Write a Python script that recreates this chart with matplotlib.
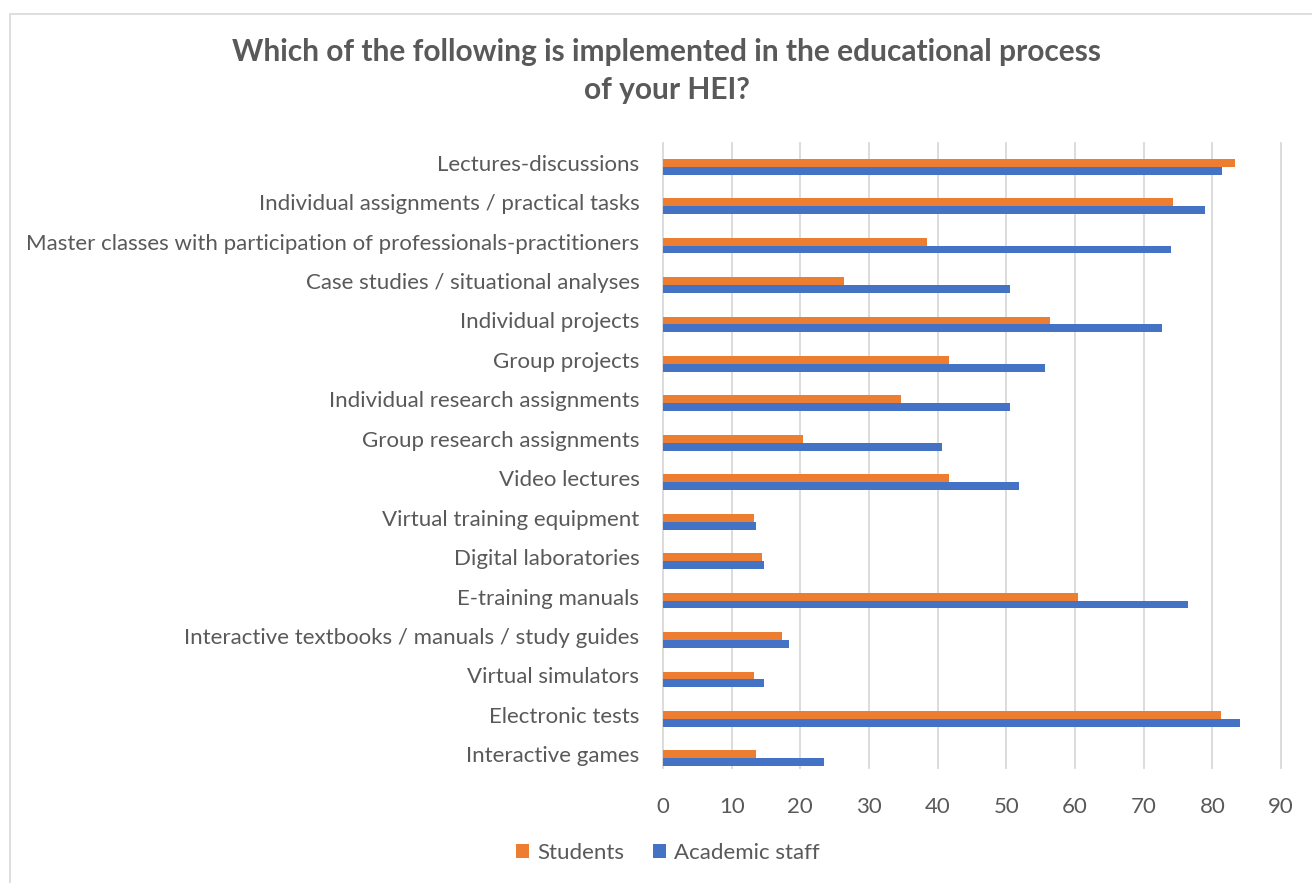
import numpy as np
import matplotlib.pyplot as plt
from matplotlib.patches import Rectangle
from matplotlib.transforms import ScaledTranslation

plt.rcParams['font.family'] = ['Lato', 'DejaVu Sans']

categories = [
    'Lectures-discussions',
    'Individual assignments / practical tasks',
    'Master classes with participation of professionals-practitioners',
    'Case studies / situational analyses',
    'Individual projects',
    'Group projects',
    'Individual research assignments',
    'Group research assignments',
    'Video lectures',
    'Virtual training equipment',
    'Digital laboratories',
    'E-training manuals',
    'Interactive textbooks / manuals / study guides',
    'Virtual simulators',
    'Electronic tests',
    'Interactive games',
]
students = [83.3, 74.2, 38.5, 26.4, 56.4, 41.6, 34.7, 20.4, 41.6,
            13.2, 14.4, 60.5, 17.3, 13.2, 81.3, 13.5]
staff = [81.4, 79.0, 74.0, 50.5, 72.7, 55.6, 50.5, 40.7, 51.8,
         13.5, 14.7, 76.5, 18.4, 14.7, 84.0, 23.4]
xticks = list(range(0, 100, 10))

text_col = '#595959'
orange = '#ED7D31'
blue = '#4472C4'

W, H = 1312, 883
fig = plt.figure(figsize=(W / 100, H / 100), dpi=100)
top, bottom = 147, 778
ax = fig.add_axes([663 / W, 1 - bottom / H, (1281 - 663) / W, (bottom - top) / H])

y = np.arange(len(categories))
h = 0.2
ax.barh(y - h / 2, students, height=h, color=orange, label='Students', zorder=2)
ax.barh(y + h / 2, staff, height=h, color=blue, label='Academic staff', zorder=2)

ax.set_ylim(len(categories) - 0.5, -0.5)
ax.set_xlim(0, 90)
ax.set_xticks(xticks)
ax.set_yticks(y)
ax.set_yticklabels(categories)
ax.tick_params(axis='both', length=0, labelsize=16, colors=text_col)
ax.tick_params(axis='x', pad=14)
ax.tick_params(axis='y', pad=17)
off = ScaledTranslation(0, 4 / 100, fig.dpi_scale_trans)
for lab in ax.get_yticklabels():
    lab.set_transform(lab.get_transform() + off)

# gridlines as in the reference: slightly above the top, short of the bottom
g0 = (bottom - 768) / (bottom - top)
g1 = 1 + (top - 143) / (bottom - top)
for xt in xticks:
    ax.axvline(xt, ymin=g0, ymax=g1, color='#D9D9D9', linewidth=1.3, zorder=0, clip_on=False)
for s in ax.spines.values():
    s.set_visible(False)

fig.text(0.508, 1 - 71 / H, 'Which of the following is implemented in the educational process\nof your HEI?',
         ha='center', va='center', fontsize=21.5, fontweight='bold', color=text_col,
         linespacing=1.45)

fig.legend(loc='center', bbox_to_anchor=(0.509, 1 - 853 / H), ncol=2, frameon=False,
           fontsize=16, labelcolor=text_col, handlelength=0.6, handleheight=0.6,
           columnspacing=1.3, handletextpad=0.35)

fig.patches.append(Rectangle((10 / W, -0.1), 1.2, 1 - 14 / H + 0.1, transform=fig.transFigure,
                             fill=False, edgecolor='#D9D9D9', linewidth=1.2))

fig.savefig('out.png', dpi=100)
